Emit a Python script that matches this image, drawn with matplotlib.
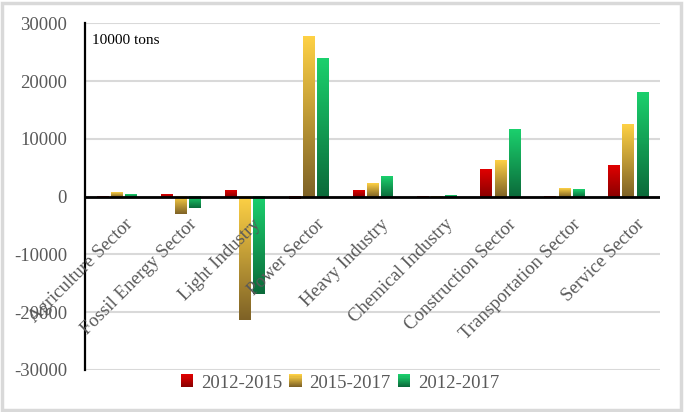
import numpy as np
import matplotlib
matplotlib.use('Agg')
import matplotlib.pyplot as plt
from matplotlib.colors import LinearSegmentedColormap
from matplotlib.legend_handler import HandlerBase
from matplotlib.patches import Rectangle

plt.rcParams['font.family'] = ['Liberation Serif', 'DejaVu Serif']

# data (10000 tons)
sectors = ['Agriculture Sector', 'Fossil Energy Sector', 'Light Industry', 'Power Sector',
           'Heavy Industry', 'Chemical Industry', 'Construction Sector',
           'Transportation Sector', 'Service Sector']
periods = ['2012-2015', '2015-2017', '2012-2017']
v_2012_2015 = [-100, 350, 1150, -350, 1050, 100, 4700, -250, 5500]
v_2015_2017 = [800, -2950, -21400, 27800, 2400, 100, 6300, 1550, 12500]
v_2012_2017 = [500, -2000, -16800, 23900, 3550, 200, 11700, 1250, 18000]
yticks = [-30000, -20000, -10000, 0, 10000, 20000, 30000]

# gradient colours, top -> bottom
grads = [('#e00000', '#8a0000'), ('#fed145', '#7e6226'), ('#1bd06d', '#0b6a3a')]
gray = '#595959'


def gradient_fill(ax, rect, c_top, c_bot):
    cmap = LinearSegmentedColormap.from_list('g', [c_top, c_bot])
    x, y = rect.get_x(), rect.get_y()
    w, h = rect.get_width(), rect.get_height()
    y0, y1 = min(y, y + h), max(y, y + h)
    grad = np.linspace(0, 1, 128).reshape(-1, 1)
    ax.imshow(grad, extent=(x, x + w, y0, y1), cmap=cmap, aspect='auto',
              origin='upper', zorder=3, interpolation='bilinear')


class GradHandler(HandlerBase):
    def __init__(self, c_top, c_bot):
        super().__init__()
        self.cmap = LinearSegmentedColormap.from_list('g', [c_top, c_bot])

    def create_artists(self, legend, orig_handle, xdescent, ydescent,
                       width, height, fontsize, trans):
        n = 12
        side = height
        x0 = -xdescent + (width - side) / 2
        y0 = -ydescent
        arts = []
        for i in range(n):
            c = self.cmap(i / (n - 1))
            arts.append(Rectangle((x0, y0 + side * (n - 1 - i) / n), side, side / n + 0.2,
                                  facecolor=c, edgecolor='none', transform=trans))
        return arts


fig = plt.figure(figsize=(6.85, 4.12), dpi=100)
ax = fig.add_axes([85 / 685, 1 - 370 / 412, 575 / 685, (370 - 23.3) / 412])

# outer frame
fig.patches.append(Rectangle((2 / 685, 2 / 412), 679 / 685, 407 / 412, transform=fig.transFigure,
                             fill=False, edgecolor='#d9d9d9', linewidth=2.5))

x = np.arange(len(sectors))
pitch = 0.222
width = 0.177
series = [v_2012_2015, v_2015_2017, v_2012_2017]
handles = []
for i, vals in enumerate(series):
    bars = ax.bar(x + (i - 1) * pitch, vals, width, color='none', edgecolor='none',
                  label=periods[i], zorder=3)
    for r in bars:
        gradient_fill(ax, r, *grads[i])
    handles.append(bars)

ax.set_xlim(-0.5, len(sectors) - 0.5)
ax.set_ylim(-30000, 30000)
ax.set_yticks(yticks)
ax.set_yticklabels([str(t) for t in yticks])
ax.set_xticks([])
ax.tick_params(axis='y', length=0, pad=13, labelsize=13.5, labelcolor=gray)
ax.grid(axis='y', color='#d9d9d9', linewidth=1.5, zorder=0)
ax.set_axisbelow(True)
for s in ['top', 'right', 'bottom']:
    ax.spines[s].set_visible(False)
ax.spines['left'].set_linewidth(1.6)
ax.spines['left'].set_color('black')
ax.axhline(0, color='black', linewidth=2, zorder=4)

# category labels
for xi, name in zip(x, sectors):
    ax.text(xi + 0.12, -3300, name, rotation=45, ha='right', va='top',
            rotation_mode='anchor', fontsize=13.5, color=gray, zorder=5)

ax.text(0.012, 0.97, '10000 tons', transform=ax.transAxes, fontsize=11,
        color='black', va='top', ha='left')

leg = fig.legend(handles, periods, loc='center', bbox_to_anchor=(340 / 685, 1 - 383 / 412),
                 ncol=3, frameon=False, fontsize=13.5, handlelength=0.65, handleheight=0.65,
                 handletextpad=0.4, columnspacing=0.4,
                 handler_map={handles[i]: GradHandler(*grads[i]) for i in range(3)})
for t in leg.get_texts():
    t.set_color(gray)

fig.savefig('out.png', dpi=100)
